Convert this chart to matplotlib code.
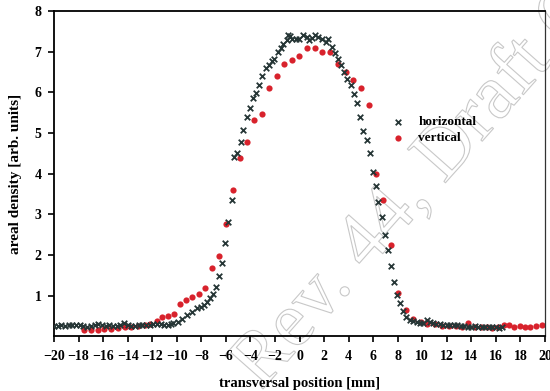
import matplotlib
matplotlib.use("Agg")
from matplotlib import pyplot as plt
import matplotlib.patheffects as pe

# horizontalni profil (x markeri)
hor_x = [-20.0, -19.7, -19.4, -19.1, -18.8, -18.5, -18.2, -17.9, -17.6, -17.3,
         -17.0, -16.7, -16.4, -16.1, -15.8, -15.5, -15.2, -14.9, -14.6, -14.3,
         -14.0, -13.7, -13.4, -13.1, -12.8, -12.5, -12.2, -11.9, -11.6, -11.3,
         -11.0, -10.7, -10.5,
         -10.28, -9.93, -9.60, -9.19, -8.79, -8.38, -8.00, -7.74, -7.52, -7.30,
         -7.08, -6.81, -6.54, -6.29, -6.05, -5.81, -5.53, -5.34, -5.07, -4.80,
         -4.58, -4.31, -4.04, -3.82, -3.55, -3.31, -3.04, -2.76, -2.49, -2.27,
         -2.06, -1.78, -1.54, -1.33, -1.05, -0.92, -0.78, -0.59, -0.32, -0.05,
         0.30, 0.58, 0.77, 1.01, 1.25, 1.52, 1.80, 2.13, 2.34, 2.66,
         2.88, 3.10, 3.35, 3.62, 3.88, 4.16, 4.45, 4.70, 4.94, 5.20,
         5.46, 5.73, 5.95, 6.20, 6.43, 6.69, 6.95, 7.19, 7.44, 7.69,
         7.92, 8.18, 8.40, 8.70, 8.99, 9.23, 9.54, 9.80, 10.09, 10.40,
         10.62, 10.86, 11.15, 11.43, 11.72, 12.00, 12.29, 12.57, 12.86, 13.14,
         13.43, 13.71, 14.00, 14.28, 14.57, 14.85, 15.14, 15.42, 15.71, 15.99,
         16.28, 16.52]
hor_y = [0.26, 0.26, 0.27, 0.26, 0.27, 0.28, 0.29, 0.27, 0.25, 0.24,
         0.25, 0.27, 0.31, 0.27, 0.26, 0.27, 0.26, 0.25, 0.27, 0.32,
         0.27, 0.26, 0.26, 0.27, 0.28, 0.28, 0.29, 0.30, 0.30, 0.30,
         0.29, 0.29, 0.30,
         0.32, 0.35, 0.44, 0.53, 0.61, 0.69, 0.72, 0.77, 0.85, 0.94,
         1.04, 1.22, 1.48, 1.81, 2.29, 2.82, 3.35, 4.42, 4.50, 4.78,
         5.07, 5.40, 5.62, 5.85, 5.99, 6.19, 6.40, 6.59, 6.67, 6.77,
         6.81, 6.98, 7.08, 7.18, 7.28, 7.41, 7.38, 7.30, 7.30, 7.30,
         7.41, 7.36, 7.28, 7.33, 7.41, 7.35, 7.30, 7.24, 7.30, 7.12,
         6.96, 6.83, 6.67, 6.50, 6.32, 6.19, 5.97, 5.73, 5.40, 5.05,
         4.82, 4.52, 4.04, 3.70, 3.31, 2.93, 2.49, 2.13, 1.73, 1.34,
         1.03, 0.81, 0.62, 0.47, 0.40, 0.37, 0.35, 0.34, 0.33, 0.40,
         0.36, 0.32, 0.31, 0.30, 0.29, 0.28, 0.28, 0.27, 0.27, 0.26,
         0.26, 0.24, 0.24, 0.25, 0.23, 0.24, 0.23, 0.23, 0.22, 0.22,
         0.21, 0.22]

# vertikalni profil (crvene tocke)
ver_x = [-17.55, -17.0, -16.45, -15.9, -15.35, -14.8, -14.25, -13.7, -13.15, -12.6,
         -12.15, -11.64, -11.18, -10.69, -10.23, -9.74, -9.25, -8.74, -8.19, -7.70,
         -7.16, -6.59, -6.02, -5.45, -4.85, -4.26, -3.69, -3.09, -2.47, -1.87,
         -1.25, -0.64, -0.02, 0.63, 1.25, 1.85, 2.48, 3.15, 3.75, 4.37,
         4.98, 5.63, 6.25, 6.82, 7.44, 8.05, 8.66, 9.26, 9.86, 10.41,
         11.03, 11.57, 12.17, 12.71, 13.20, 13.74, 14.28, 14.77, 15.24, 15.72,
         16.18, 16.67, 17.08, 17.48, 17.95, 18.36, 18.76, 19.23, 19.72]
ver_y = [0.17, 0.16, 0.17, 0.18, 0.19, 0.20, 0.22, 0.24, 0.26, 0.28,
         0.30, 0.39, 0.47, 0.50, 0.55, 0.80, 0.89, 0.98, 1.04, 1.20,
         1.67, 1.98, 2.76, 3.60, 4.38, 4.78, 5.32, 5.46, 6.10, 6.40,
         6.69, 6.80, 6.90, 7.09, 7.09, 7.00, 7.00, 6.69, 6.50, 6.31,
         6.10, 5.69, 3.99, 3.35, 2.25, 1.06, 0.64, 0.44, 0.36, 0.30,
         0.30, 0.26, 0.26, 0.26, 0.24, 0.32, 0.24, 0.23, 0.22, 0.21,
         0.22, 0.28, 0.28, 0.24, 0.26, 0.24, 0.24, 0.25, 0.27]

xticks = list(range(-20, 21, 2))
yticks = [1, 2, 3, 4, 5, 6, 7, 8]

plt.rcParams['font.family'] = ['Liberation Serif', 'DejaVu Serif']
plt.rcParams['font.weight'] = 'bold'

fig = plt.figure(figsize=(5.5, 3.91), dpi=100)
ax = fig.add_axes([0.0982, 0.1396, 0.8927, 0.8323])
ax.patch.set_alpha(0)

# vodeni zig u pozadini
fig.text(0.475, 0.0, "Rev. 44, Draft Copy", rotation=48.5, rotation_mode='anchor',
         ha='left', va='baseline', fontsize=56, fontweight='normal',
         color='none', zorder=-5,
         path_effects=[pe.Stroke(linewidth=0.8, foreground='#c8c8c8')])

ax.scatter(hor_x, hor_y, marker='x', s=16, linewidths=1.3, color='#263636',
           label='horizontal', zorder=3)
ax.scatter(ver_x, ver_y, marker='o', s=20, linewidths=0, color='#d8222c',
           label='vertical', zorder=2)

ax.set_xlim(-20, 20)
ax.set_ylim(0, 8)
ax.set_xticks(xticks)
ax.set_yticks(yticks)
ax.tick_params(direction='out', length=4, width=1.2, labelsize=10)
ax.tick_params(axis='x', pad=6)
ax.tick_params(axis='y', pad=5)
for s in ['left', 'bottom', 'top']:
    ax.spines[s].set_linewidth(1.3)
ax.spines['right'].set_linewidth(0.9)
ax.spines['right'].set_color('#333333')

ax.set_xlabel("transversal position [mm]", fontsize=10.5, fontweight='bold')
ax.set_ylabel("areal density [arb. units]", fontsize=11, fontweight='bold')
ax.xaxis.set_label_coords(0.5, -0.125)
ax.yaxis.set_label_coords(-0.066, 0.5)

ax.legend(loc='center left', bbox_to_anchor=(0.688, 0.634), frameon=False,
          fontsize=9.5, handlelength=1.0, handletextpad=1.0, labelspacing=0.3,
          borderpad=0, borderaxespad=0, scatterpoints=1)

fig.savefig("out.png", dpi=100)
